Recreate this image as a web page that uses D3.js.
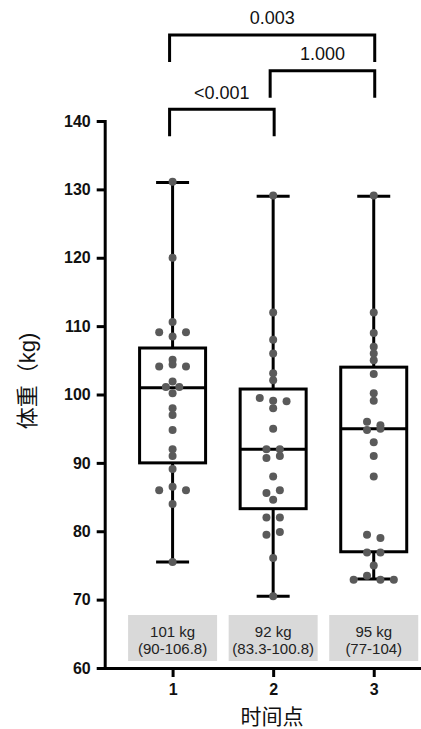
<!DOCTYPE html>
<html>
<head>
<meta charset="utf-8">
<script src="https://cdn.jsdelivr.net/npm/d3@7"></script>
<style>
  body { margin: 0; background: #fff; }
  svg { display: block; }
</style>
</head>
<body>
<svg id="chart" width="421" height="729"></svg>
<script>
// ---------- data ----------
const categories = ["1", "2", "3"];
const yTicks = [60, 70, 80, 90, 100, 110, 120, 130, 140];

// individual observations per time point (kg)
const points1 = [131.1, 120.0, 110.6, 109.1, 108.5, 109.1, 105.1, 104.1, 104.4, 104.1, 101.9, 101.1, 101.1, 100.2, 98.0, 97.0, 94.8, 92.0, 91.0, 89.1, 86.0, 86.5, 86.0, 84.0, 75.5];
const points2 = [129.1, 112.0, 108.0, 106.0, 103.1, 102.1, 99.5, 99.1, 99.0, 98.0, 95.0, 92.0, 92.0, 90.7, 91.0, 88.0, 85.6, 86.0, 84.6, 82.0, 82.0, 79.5, 79.9, 76.1, 70.5];
const points3 = [129.1, 112.0, 109.0, 107.0, 106.0, 105.0, 103.0, 100.2, 99.1, 96.0, 95.5, 94.8, 95.0, 93.0, 91.0, 88.0, 79.5, 79.0, 76.9, 76.9, 75.0, 72.9, 73.5, 72.9, 72.9];

// box statistics
const mins    = [75.5, 70.5, 73];
const q1s     = [90, 83.3, 77];
const medians = [101, 92, 95];
const q3s     = [106.8, 100.8, 104];
const maxs    = [131, 129, 129];

// summary labels
const labelTop    = ["101 kg", "92 kg", "95 kg"];
const labelBottom = ["(90-106.8)", "(83.3-100.8)", "(77-104)"];

// significance comparisons
const compFrom   = [1, 2, 1];
const compTo     = [2, 3, 3];
const compLabels = ["<0.001", "1.000", "0.003"];

const xTitle = "时间点";
const yTitle = "体重（kg)";

// ---------- setup ----------
const FONT = '"Liberation Sans", Arial, "Noto Sans CJK SC", sans-serif';
const svg = d3.select("#chart");
svg.append("rect").attr("width", 421).attr("height", 729).attr("fill", "#fff");

const x = d3.scaleLinear().domain([0.325, 3.47]).range([104.7, 421]);
const y = d3.scaleLinear().domain([60, 140]).range([668, 121]);

const groups = [points1, points2, points3];
const LW = 3;
const BOX_W = 66;
const CAP_W = 33;
const DOT_R = 4;
const DOT_STEP = 13.4;
const ROW_TOL = 0.65;

// ---------- axes ----------
const yAxisG = svg.append("g")
  .attr("transform", `translate(${x(0.325)},0)`)
  .call(d3.axisLeft(y).tickValues(yTicks).tickSize(8).tickPadding(6).tickSizeOuter(0).tickFormat(d3.format("d")));

const xAxisG = svg.append("g")
  .attr("transform", `translate(0,${y(60)})`)
  .call(d3.axisBottom(x).tickValues([1, 2, 3]).tickSize(9).tickPadding(7).tickSizeOuter(0).tickFormat(d => categories[d - 1]));

[yAxisG, xAxisG].forEach(g => {
  g.select(".domain").attr("stroke", "#000").attr("stroke-width", LW).attr("stroke-linecap", "square");
  g.selectAll(".tick line").attr("stroke", "#000").attr("stroke-width", LW);
  g.selectAll(".tick text")
    .attr("fill", "#111")
    .style("font-family", FONT)
    .style("font-size", "16px")
    .style("font-weight", "bold");
});

// ---------- summary label boxes ----------
const lab = svg.append("g");
categories.forEach((c, i) => {
  const cx = x(i + 1);
  lab.append("rect")
    .attr("x", cx - 44.5).attr("y", y(60) - 53)
    .attr("width", 89).attr("height", 46)
    .attr("fill", "#d9d9d9");
  lab.append("text")
    .attr("x", cx).attr("y", y(60) - 36.5)
    .attr("dy", "0.35em")
    .attr("text-anchor", "middle")
    .attr("fill", "#222")
    .style("font-family", FONT).style("font-size", "15px")
    .text(labelTop[i]);
  lab.append("text")
    .attr("x", cx).attr("y", y(60) - 19)
    .attr("dy", "0.35em")
    .attr("text-anchor", "middle")
    .attr("fill", "#222")
    .style("font-family", FONT).style("font-size", "15px")
    .text(labelBottom[i]);
});

// ---------- box plots ----------
const boxes = svg.append("g").attr("stroke", "#000").attr("stroke-width", LW).attr("fill", "none");
categories.forEach((c, i) => {
  const cx = x(i + 1);
  // whiskers
  boxes.append("line").attr("x1", cx).attr("x2", cx).attr("y1", y(maxs[i])).attr("y2", y(q3s[i]));
  boxes.append("line").attr("x1", cx).attr("x2", cx).attr("y1", y(q1s[i])).attr("y2", y(mins[i]));
  boxes.append("line").attr("x1", cx - CAP_W / 2).attr("x2", cx + CAP_W / 2).attr("y1", y(maxs[i])).attr("y2", y(maxs[i]));
  boxes.append("line").attr("x1", cx - CAP_W / 2).attr("x2", cx + CAP_W / 2).attr("y1", y(mins[i])).attr("y2", y(mins[i]));
  // box
  boxes.append("rect")
    .attr("x", cx - BOX_W / 2).attr("y", y(q3s[i]))
    .attr("width", BOX_W).attr("height", y(q1s[i]) - y(q3s[i]));
  // median
  boxes.append("line").attr("x1", cx - BOX_W / 2).attr("x2", cx + BOX_W / 2).attr("y1", y(medians[i])).attr("y2", y(medians[i]));
});

// ---------- dots (row-based swarm) ----------
function swarm(values) {
  const idx = values.map((v, k) => ({ v, k })).sort((a, b) => b.v - a.v || a.k - b.k);
  const rows = [];
  idx.forEach(p => {
    const last = rows[rows.length - 1];
    if (last && last[0].v - p.v < ROW_TOL) last.push(p); else rows.push([p]);
  });
  const out = [];
  rows.forEach(row => {
    row.sort((a, b) => a.k - b.k);
    const n = row.length;
    row.forEach((p, j) => out.push({ v: p.v, off: (j - (n - 1) / 2) * DOT_STEP }));
  });
  return out;
}

const dots = svg.append("g");
groups.forEach((vals, i) => {
  const cx = x(i + 1);
  dots.selectAll(null)
    .data(swarm(vals))
    .enter().append("circle")
    .attr("cx", d => cx + d.off)
    .attr("cy", d => y(d.v))
    .attr("r", DOT_R)
    .attr("fill", "#5a5a5a");
});

// ---------- significance brackets ----------
const br = svg.append("g");
const levelY = [109.3, 70.7, 35];
const LEG = 27;
compLabels.forEach((lbl, i) => {
  const x1 = x(compFrom[i]) - 3, x2 = x(compTo[i]) + 1;
  const yy = levelY[i];
  br.append("path")
    .attr("d", `M${x1},${yy + LEG}V${yy}H${x2}V${yy + LEG}`)
    .attr("fill", "none").attr("stroke", "#000").attr("stroke-width", LW);
  br.append("text")
    .attr("x", (x1 + x2) / 2).attr("y", yy - 17)
    .attr("dy", "0.35em")
    .attr("text-anchor", "middle")
    .attr("fill", "#111")
    .style("font-family", FONT).style("font-size", "18px")
    .text(lbl);
});

// ---------- axis titles ----------
svg.append("text")
  .attr("x", 272).attr("y", 717)
  .attr("dy", "0.35em")
  .attr("text-anchor", "middle")
  .attr("fill", "#111")
  .style("font-family", FONT).style("font-size", "21px")
  .text(xTitle);

svg.append("text")
  .attr("transform", "translate(27,381) rotate(-90)")
  .attr("dy", "0.35em")
  .attr("text-anchor", "middle")
  .attr("fill", "#111")
  .style("font-family", FONT).style("font-size", "22px")
  .text(yTitle);
</script>
</body>
</html>
